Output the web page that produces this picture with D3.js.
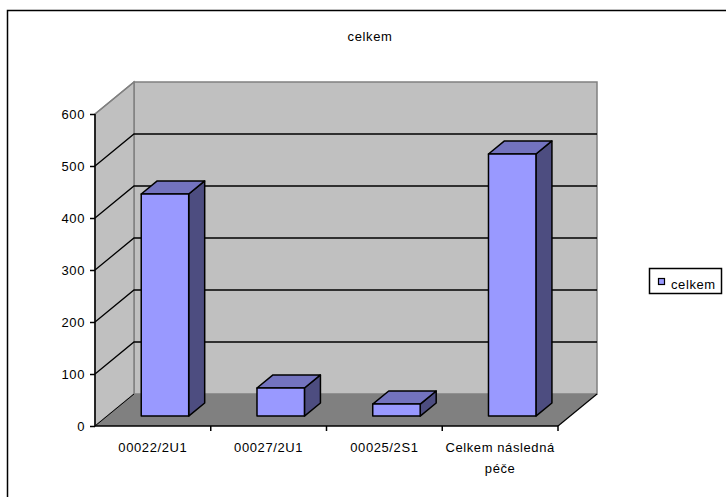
<!DOCTYPE html>
<html><head><meta charset="utf-8">
<script src="https://cdn.jsdelivr.net/npm/d3@7"></script>
<style>body{margin:0;background:#fff}svg{display:block}text{font-family:"Liberation Sans",Arial,sans-serif;font-size:13px;letter-spacing:0.6px;fill:#000}</style>
</head><body>
<svg id="c" width="726" height="497"></svg>
<script>
const title = "celkem";
const categories = ["00022/2U1", "00027/2U1", "00025/2S1", "Celkem následná péče"];
const values = [427, 54, 23, 504];
const yTicks = [0, 100, 200, 300, 400, 500, 600];
const seriesName = "celkem";

const svg = d3.select("#c");
const DX = 39, DY = 32;
const x = d3.scaleBand().domain(categories).range([95, 558]).padding(0);
const y = d3.scaleLinear().domain([0, 600]).range([426, 114]);
const P = (px, v, d) => [px + DX * d, y(v) - DY * d];
const poly = pts => pts.map(p => p.join(",")).join(" ");

// outer border
svg.append("rect").attr("x", 7.5).attr("y", 10.5).attr("width", 740).attr("height", 500)
  .attr("fill", "none").attr("stroke", "#000").attr("stroke-width", 1.5);

const x0 = x.range()[0], x1 = x.range()[1];
// back wall
svg.append("polygon").attr("points", poly([P(x0,600,1),P(x1,600,1),P(x1,0,1),P(x0,0,1)]))
  .attr("fill", "#c0c0c0").attr("stroke", "#808080").attr("stroke-width", 1.5);
// side wall
svg.append("polygon").attr("points", poly([P(x0,600,0),P(x0,600,1),P(x0,0,1),P(x0,0,0)]))
  .attr("fill", "#c0c0c0").attr("stroke", "#808080").attr("stroke-width", 1.5);
// floor
svg.append("polygon").attr("points", poly([P(x0,0,0),P(x0,0,1),P(x1,0,1),P(x1,0,0)]))
  .attr("fill", "#808080").attr("stroke", "none");
svg.append("line").attr("x1", P(x1,0,0)[0]).attr("y1", P(x1,0,0)[1]).attr("x2", P(x1,0,1)[0]).attr("y2", P(x1,0,1)[1])
  .attr("stroke", "#000").attr("stroke-width", 1.2);

// gridlines
yTicks.filter(t => t > 0 && t < 600).forEach(t => {
  const a = P(x0,t,0), b = P(x0,t,1), c = P(x1,t,1);
  svg.append("polyline").attr("points", poly([a,b,c])).attr("fill","none").attr("stroke","#000").attr("stroke-width",1.3);
});
svg.append("line").attr("x1", P(x0,600,0)[0]).attr("y1", P(x0,600,0)[1]).attr("x2", P(x0,600,1)[0]).attr("y2", P(x0,600,1)[1])
  .attr("stroke","#808080").attr("stroke-width",1.5);
svg.append("line").attr("x1", P(x0,0,0)[0]).attr("y1", P(x0,0,0)[1]).attr("x2", P(x0,0,1)[0]).attr("y2", P(x0,0,1)[1])
  .attr("stroke","#000").attr("stroke-width",1);

// bars
const d0 = 0.31, d1 = 0.72, bw = x.bandwidth() * 0.41;
categories.forEach((c, i) => {
  const v = values[i];
  const l = x(c) + x.bandwidth() / 2 - bw / 2, r = l + bw;
  const g = svg.append("g").attr("stroke", "#000").attr("stroke-width", 1.5).attr("stroke-linejoin", "round");
  g.append("polygon").attr("points", poly([P(r,0,d0),P(r,0,d1),P(r,v,d1),P(r,v,d0)])).attr("fill", "#4d4d80");
  g.append("polygon").attr("points", poly([P(l,v,d0),P(l,v,d1),P(r,v,d1),P(r,v,d0)])).attr("fill", "#7373bf");
  g.append("polygon").attr("points", poly([P(l,0,d0),P(r,0,d0),P(r,v,d0),P(l,v,d0)])).attr("fill", "#9999ff");
});

// y axis
const yAxis = d3.axisLeft(y).tickValues(yTicks).tickSize(5).tickPadding(5).tickFormat(d3.format("d"));
const ga = svg.append("g").attr("transform", `translate(${x0},0)`).call(yAxis);
ga.attr("font-family", null).attr("font-size", null);
ga.select(".domain").attr("stroke", "#000").attr("stroke-width", 1.5).attr("d", `M0,${y(600)}V${y(0)}`);
ga.selectAll(".tick line").attr("stroke", "#000").attr("stroke-width", 1.5);
ga.selectAll("text").attr("fill", "#000");

// x axis
const xb = d3.scaleLinear().domain([0, categories.length]).range([x0, x1]);
const gx = svg.append("g");
gx.append("line").attr("x1", x0).attr("x2", x1).attr("y1", y(0)).attr("y2", y(0)).attr("stroke","#000").attr("stroke-width",1.5);
d3.range(1, categories.length + 1).forEach(k => {
  gx.append("line").attr("x1", xb(k)).attr("x2", xb(k)).attr("y1", y(0)).attr("y2", y(0) + 5).attr("stroke","#000").attr("stroke-width",1.5);
});
const labelLines = { "Celkem následná péče": ["Celkem následná", "péče"] };
categories.forEach(c => {
  const lines = labelLines[c] || [c];
  const t = gx.append("text").attr("text-anchor", "middle").attr("x", x(c) + x.bandwidth() / 2).attr("y", 452);
  lines.forEach((ln, j) => t.append("tspan").attr("x", x(c) + x.bandwidth() / 2).attr("dy", j ? 21 : 0).text(ln));
});

// title
svg.append("text").attr("x", 370).attr("y", 41).attr("text-anchor", "middle").text(title);

// legend
svg.append("rect").attr("x", 649.5).attr("y", 268.5).attr("width", 72).attr("height", 25)
  .attr("fill", "#fff").attr("stroke", "#000").attr("stroke-width", 1.5);
svg.append("rect").attr("x", 658.5).attr("y", 278.5).attr("width", 6).attr("height", 6)
  .attr("fill", "#9999ff").attr("stroke", "#000").attr("stroke-width", 1.2);
svg.append("text").attr("x", 671).attr("y", 289).text(seriesName);
</script>
</body></html>
